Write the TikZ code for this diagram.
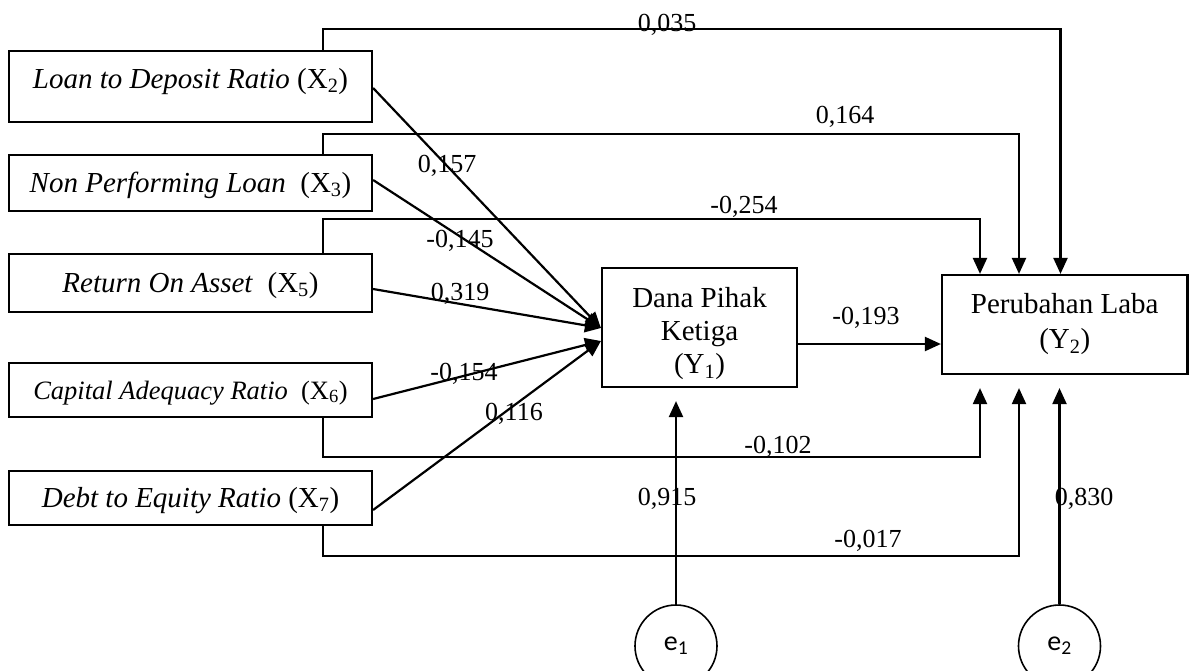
\documentclass[tikz,border=0pt]{standalone}
\usepackage{fontspec}
\setmainfont{Liberation Serif}
\newfontfamily\calfont{Carlito}
\usetikzlibrary{arrows.meta,calc}
\begin{document}
\begin{tikzpicture}[x=1pt,y=-1pt,
  box/.style={draw, line width=2.2pt, rectangle, inner sep=0pt, align=center,
    font=\fontsize{29}{33}\selectfont},
  xbox/.style={box, minimum width=363pt, text height=20pt, text depth=2pt},
  num/.style={inner sep=0pt, anchor=base, font=\fontsize{26}{30}\selectfont},
  errc/.style={draw, circle, line width=1.6pt, minimum size=82pt, inner sep=0pt,
    font=\calfont\fontsize{28}{30}\selectfont},
  arr/.style={line width=2.2pt, -{Triangle[length=16pt,width=14pt]}},
  ln/.style={line width=2.2pt}]
\useasboundingbox (0,0) rectangle (1189,670);

% exogenous boxes
\node[xbox, minimum height=71pt, text depth=17pt] (x2) at (190.5,86.5)
  {\textit{Loan to Deposit Ratio} (X\textsubscript{2})};
\node[xbox, minimum height=56pt] (x3) at (190.5,183)
  {\textit{Non Performing Loan}\ \ (X\textsubscript{3})};
\node[xbox, minimum height=58pt] (x5) at (190.5,283)
  {\textit{Return On Asset}\ \ (X\textsubscript{5})};
\node[xbox, minimum height=54pt, font=\fontsize{26.5}{30}\selectfont] (x6) at (190.5,390)
  {\textit{Capital Adequacy Ratio}\ \ (X\textsubscript{6})};
\node[xbox, minimum height=54pt] (x7) at (190.5,498)
  {\textit{Debt to Equity Ratio} (X\textsubscript{7})};

% endogenous boxes
\node[box, minimum width=195pt, minimum height=119pt] (y1) at (699.5,327.5) {};
\node[inner sep=0pt, align=center, anchor=north, font=\fontsize{29}{33}\selectfont]
  (y1t) at (699.5,287.5) {Dana Pihak\\Ketiga\\(Y\textsubscript{1})};
\node[box, minimum width=245.5pt, minimum height=99pt] (y2) at (1064.75,324.5)
  {Perubahan Laba\\[2pt](Y\textsubscript{2})};

% error terms
\node[errc] (e1) at (676,646) {e\textsubscript{1}};
\node[errc] (e2) at (1059.5,646) {e\textsubscript{2}};

% paths to Y1
\draw[arr] ([yshift=-1.5pt]x2.east) -- ([yshift=-0.5pt]y1.west);
\draw[arr] ([yshift=3pt]x3.east) -- ([yshift=-0.5pt]y1.west);
\draw[arr] ([yshift=-6pt]x5.east) -- ([yshift=-0.5pt]y1.west);
\draw[arr] ([yshift=-9pt]x6.east) -- ([yshift=-13.5pt]y1.west);
\draw[arr] ([yshift=-12pt]x7.east) -- ([yshift=-13.5pt]y1.west);

% Y1 -> Y2
\draw[arr] ([yshift=-16.5pt]y1.east) -- ([yshift=-16.5pt]y1.east -| y2.west);

% direct paths to Y2
\draw[arr] ([xshift=132.5pt]x2.north) -- ++(0,-21) -| ([xshift=-4.25pt]y2.north);
\draw[arr] ([xshift=132.5pt]x3.north) -- ++(0,-20) -| ([xshift=-45.75pt]y2.north);
\draw[arr] ([xshift=132.5pt]x5.north) -- ++(0,-34) -| ([xshift=-84.75pt]y2.north);
\draw[arr] ([xshift=132.5pt]x6.south) -- ++(0,39) -| ([xshift=-84.75pt,yshift=-13pt]y2.south);
\draw[arr] ([xshift=132.5pt]x7.south) -- ++(0,30) -| ([xshift=-45.75pt,yshift=-13pt]y2.south);

% errors
\draw[arr] (e1.north) -- ([yshift=-13pt]y1.south -| e1.north);
\draw[arr] (e2.north) -- ([yshift=-13pt]y2.south -| e2.north);

% coefficients
\node[num] (l035) at (667,31.5) {0,035};
\node[num] (l164) at (845,123) {0,164};
\node[num] (l254) at (744,213) {-0,254};
\node[num] (l157) at (447,172) {0,157};
\node[num] (l145) at (460,247) {-0,145};
\node[num] (l319) at (460,300) {0,319};
\node[num] (l154) at (464,380) {-0,154};
\node[num] (l116) at (514,420) {0,116};
\node[num] (l193) at (866,324) {-0,193};
\node[num] (l102) at (778,453) {-0,102};
\node[num] (l017) at (868,547) {-0,017};
\node[num] (l915) at (667,505) {0,915};
\node[num] (l830) at (1084,505) {0,830};
\end{tikzpicture}
\end{document}
